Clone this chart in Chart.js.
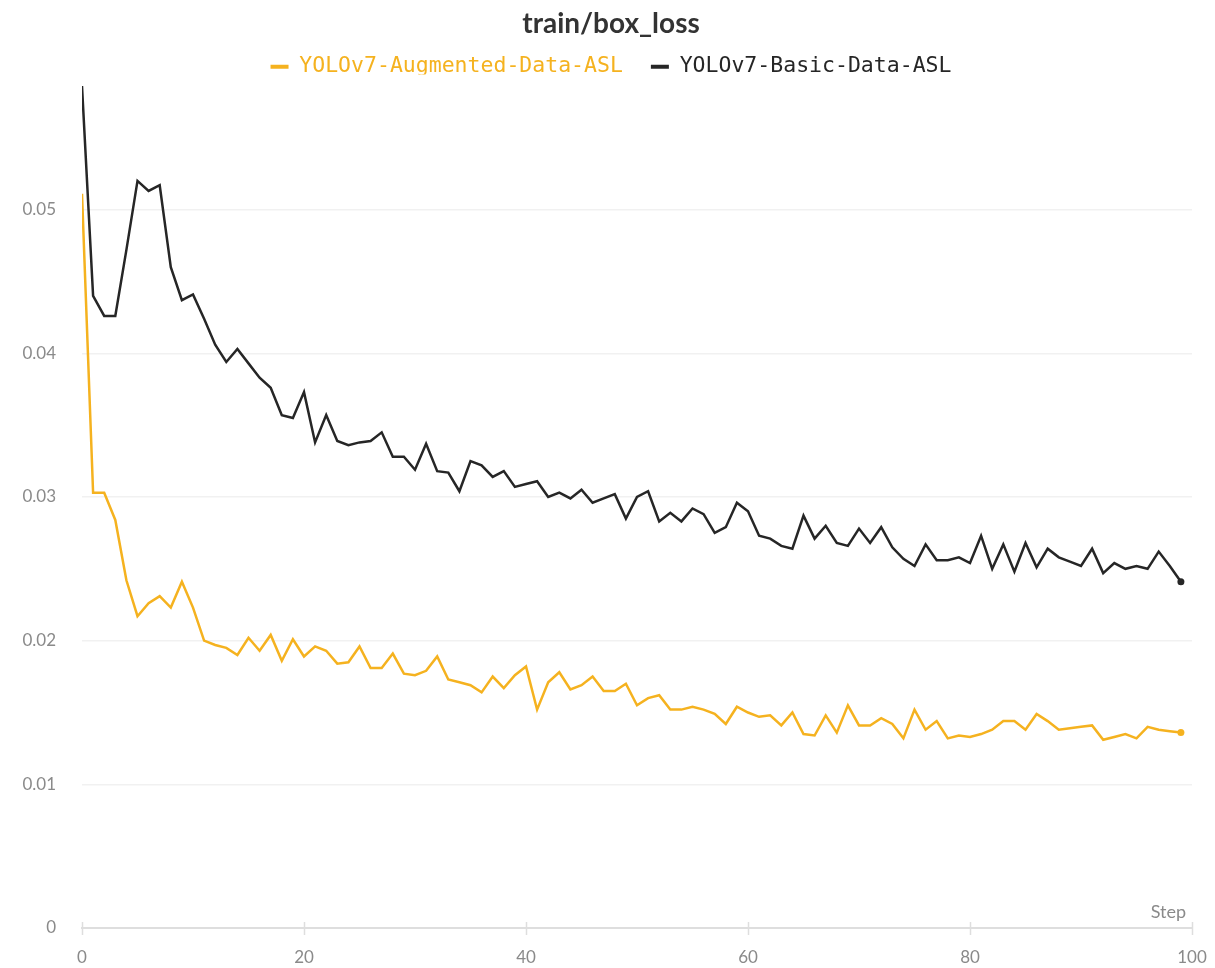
<!DOCTYPE html>
<html>
<head>
<meta charset="utf-8">
<title>train/box_loss</title>
<script src="https://cdn.jsdelivr.net/npm/chart.js@4/dist/chart.umd.min.js"></script>
<style>
  html, body { margin: 0; padding: 0; background: #ffffff; }
  #wrap { width: 1215px; height: 968px; }
</style>
</head>
<body>
<div id="wrap"><canvas id="chart" width="1215" height="968"></canvas></div>
<script>
// Training step index for every logged epoch
const steps = [...Array(100).keys()];

// Run names
const seriesNames = ['YOLOv7-Augmented-Data-ASL', 'YOLOv7-Basic-Data-ASL'];

// train/box_loss per step, augmented data run
const augmentedLoss = [
  0.0511, 0.0303, 0.0303, 0.0284, 0.0242, 0.0217, 0.0226, 0.0231, 0.0223, 0.0241,
  0.0223, 0.0200, 0.0197, 0.0195, 0.0190, 0.0202, 0.0193, 0.0204, 0.0186, 0.0201,
  0.0189, 0.0196, 0.0193, 0.0184, 0.0185, 0.0196, 0.0181, 0.0181, 0.0191, 0.0177,
  0.0176, 0.0179, 0.0189, 0.0173, 0.0171, 0.0169, 0.0164, 0.0175, 0.0167, 0.0176,
  0.0182, 0.0152, 0.0171, 0.0178, 0.0166, 0.0169, 0.0175, 0.0165, 0.0165, 0.0170,
  0.0155, 0.0160, 0.0162, 0.0152, 0.0152, 0.0154, 0.0152, 0.0149, 0.0142, 0.0154,
  0.0150, 0.0147, 0.0148, 0.0141, 0.0150, 0.0135, 0.0134, 0.0148, 0.0136, 0.0155,
  0.0141, 0.0141, 0.0146, 0.0142, 0.0132, 0.0152, 0.0138, 0.0144, 0.0132, 0.0134,
  0.0133, 0.0135, 0.0138, 0.0144, 0.0144, 0.0138, 0.0149, 0.0144, 0.0138, 0.0139,
  0.0140, 0.0141, 0.0131, 0.0133, 0.0135, 0.0132, 0.0140, 0.0138, 0.0137, 0.0136
];

// train/box_loss per step, basic data run
const basicLoss = [
  0.0586, 0.0440, 0.0426, 0.0426, 0.0472, 0.0520, 0.0513, 0.0517, 0.0460, 0.0437,
  0.0441, 0.0424, 0.0406, 0.0394, 0.0403, 0.0393, 0.0383, 0.0376, 0.0357, 0.0355,
  0.0373, 0.0338, 0.0357, 0.0339, 0.0336, 0.0338, 0.0339, 0.0345, 0.0328, 0.0328,
  0.0319, 0.0337, 0.0318, 0.0317, 0.0304, 0.0325, 0.0322, 0.0314, 0.0318, 0.0307,
  0.0309, 0.0311, 0.0300, 0.0303, 0.0299, 0.0305, 0.0296, 0.0299, 0.0302, 0.0285,
  0.0300, 0.0304, 0.0283, 0.0289, 0.0283, 0.0292, 0.0288, 0.0275, 0.0279, 0.0296,
  0.0290, 0.0273, 0.0271, 0.0266, 0.0264, 0.0287, 0.0271, 0.0280, 0.0268, 0.0266,
  0.0278, 0.0268, 0.0279, 0.0265, 0.0257, 0.0252, 0.0267, 0.0256, 0.0256, 0.0258,
  0.0254, 0.0273, 0.0250, 0.0267, 0.0248, 0.0268, 0.0251, 0.0264, 0.0258, 0.0255,
  0.0252, 0.0264, 0.0247, 0.0254, 0.0250, 0.0252, 0.0250, 0.0262, 0.0252, 0.0241
];

// Axis ticks
const yTicks = [0, 0.01, 0.02, 0.03, 0.04, 0.05];
const xTicks = [0, 20, 40, 60, 80, 100];

const YELLOW = '#f5b21f';
const BLACK = '#262626';
const AXIS_GREY = '#dedede';
const LABEL_GREY = '#8a8a8a';
const SANS = 'Lato, "Noto Sans", sans-serif';
const MONO = '"DejaVu Sans Mono", "Liberation Mono", monospace';

const toPoints = (values) => steps.map((s, i) => ({ x: s, y: values[i] }));
const lastDot = (ctx) => (ctx.dataIndex === steps.length - 1 ? 3.5 : 0);

// Header placement, tick marks crossing the x axis line, and the "Step" caption
const axisDecor = {
  id: 'axisDecor',
  beforeLayout(chart) {
    const lg = chart.legend;
    if (lg && !lg._tightened) {
      const fit = lg.fit.bind(lg);
      lg.fit = function () { fit(); this.height -= 13; };
      lg._tightened = true;
    }
  },
  afterLayout(chart) {
    // centre the header over the page rather than the padded box
    const shift = 6;
    [chart.titleBlock, chart.legend].forEach((b) => {
      if (b) { b.left += shift; b.right += shift; }
    });
  },
  afterDatasetsDraw(chart) {
    const { ctx, scales: { x }, chartArea } = chart;
    const yAxis = chartArea.bottom;
    ctx.save();
    ctx.strokeStyle = AXIS_GREY;
    ctx.lineWidth = 1.5;
    xTicks.forEach((v) => {
      const px = Math.round(x.getPixelForValue(v)) + 0.5;
      ctx.beginPath();
      ctx.moveTo(px, yAxis - 6);
      ctx.lineTo(px, yAxis + 7);
      ctx.stroke();
    });
    ctx.fillStyle = LABEL_GREY;
    ctx.font = '18px ' + SANS;
    ctx.textAlign = 'right';
    ctx.textBaseline = 'alphabetic';
    ctx.fillText('Step', chartArea.right - 6, yAxis - 10);
    ctx.restore();
  }
};

new Chart(document.getElementById('chart'), {
  type: 'line',
  data: {
    datasets: [
      {
        label: seriesNames[0],
        data: toPoints(augmentedLoss),
        borderColor: YELLOW,
        backgroundColor: YELLOW,
        borderWidth: 2.5,
        pointRadius: lastDot,
        pointHoverRadius: lastDot,
        pointBorderWidth: 0,
        tension: 0
      },
      {
        label: seriesNames[1],
        data: toPoints(basicLoss),
        borderColor: BLACK,
        backgroundColor: BLACK,
        borderWidth: 2.5,
        pointRadius: lastDot,
        pointHoverRadius: lastDot,
        pointBorderWidth: 0,
        tension: 0
      }
    ]
  },
  options: {
    responsive: false,
    animation: false,
    layout: { padding: { left: 18, right: 23, top: 0, bottom: 0 } },
    plugins: {
      title: {
        display: true,
        text: 'train/box_loss',
        color: '#333333',
        font: { family: SANS, size: 28, weight: 'bold', lineHeight: 1.2 },
        padding: { top: 7, bottom: -12.5 }
      },
      legend: {
        display: true,
        position: 'top',
        align: 'center',
        labels: {
          boxWidth: 18,
          boxHeight: 4,
          padding: 28,
          font: { family: MONO, size: 21.5 },
          generateLabels(chart) {
            return chart.data.datasets.map((ds, i) => ({
              text: ds.label,
              fillStyle: ds.borderColor,
              strokeStyle: ds.borderColor,
              fontColor: ds.borderColor,
              lineWidth: 0,
              hidden: !chart.isDatasetVisible(i),
              datasetIndex: i
            }));
          }
        }
      },
      tooltip: { enabled: false }
    },
    scales: {
      x: {
        type: 'linear',
        min: 0,
        max: 100,
        afterFit(scale) { scale.height = 40; },
        afterBuildTicks(scale) { scale.ticks = xTicks.map((v) => ({ value: v })); },
        border: { display: true, color: AXIS_GREY, width: 2 },
        grid: { display: false, drawTicks: true, tickLength: 19 },
        ticks: {
          padding: 0,
          color: LABEL_GREY,
          font: { family: SANS, size: 17 },
          maxRotation: 0
        }
      },
      y: {
        type: 'linear',
        min: 0,
        max: 0.0594,
        afterFit(scale) { scale.width = 64; },
        afterBuildTicks(scale) { scale.ticks = yTicks.map((v) => ({ value: v })); },
        border: { display: false },
        grid: {
          drawTicks: false,
          color: (ctx) => (ctx.tick && ctx.tick.value === 0 ? 'rgba(0,0,0,0)' : '#f1f1f1'),
          lineWidth: 1.5
        },
        ticks: {
          padding: 26,
          color: LABEL_GREY,
          font: { family: SANS, size: 17 },
          callback: (v) => (v === 0 ? '0' : v.toFixed(2))
        }
      }
    }
  },
  plugins: [axisDecor]
});
</script>
</body>
</html>
